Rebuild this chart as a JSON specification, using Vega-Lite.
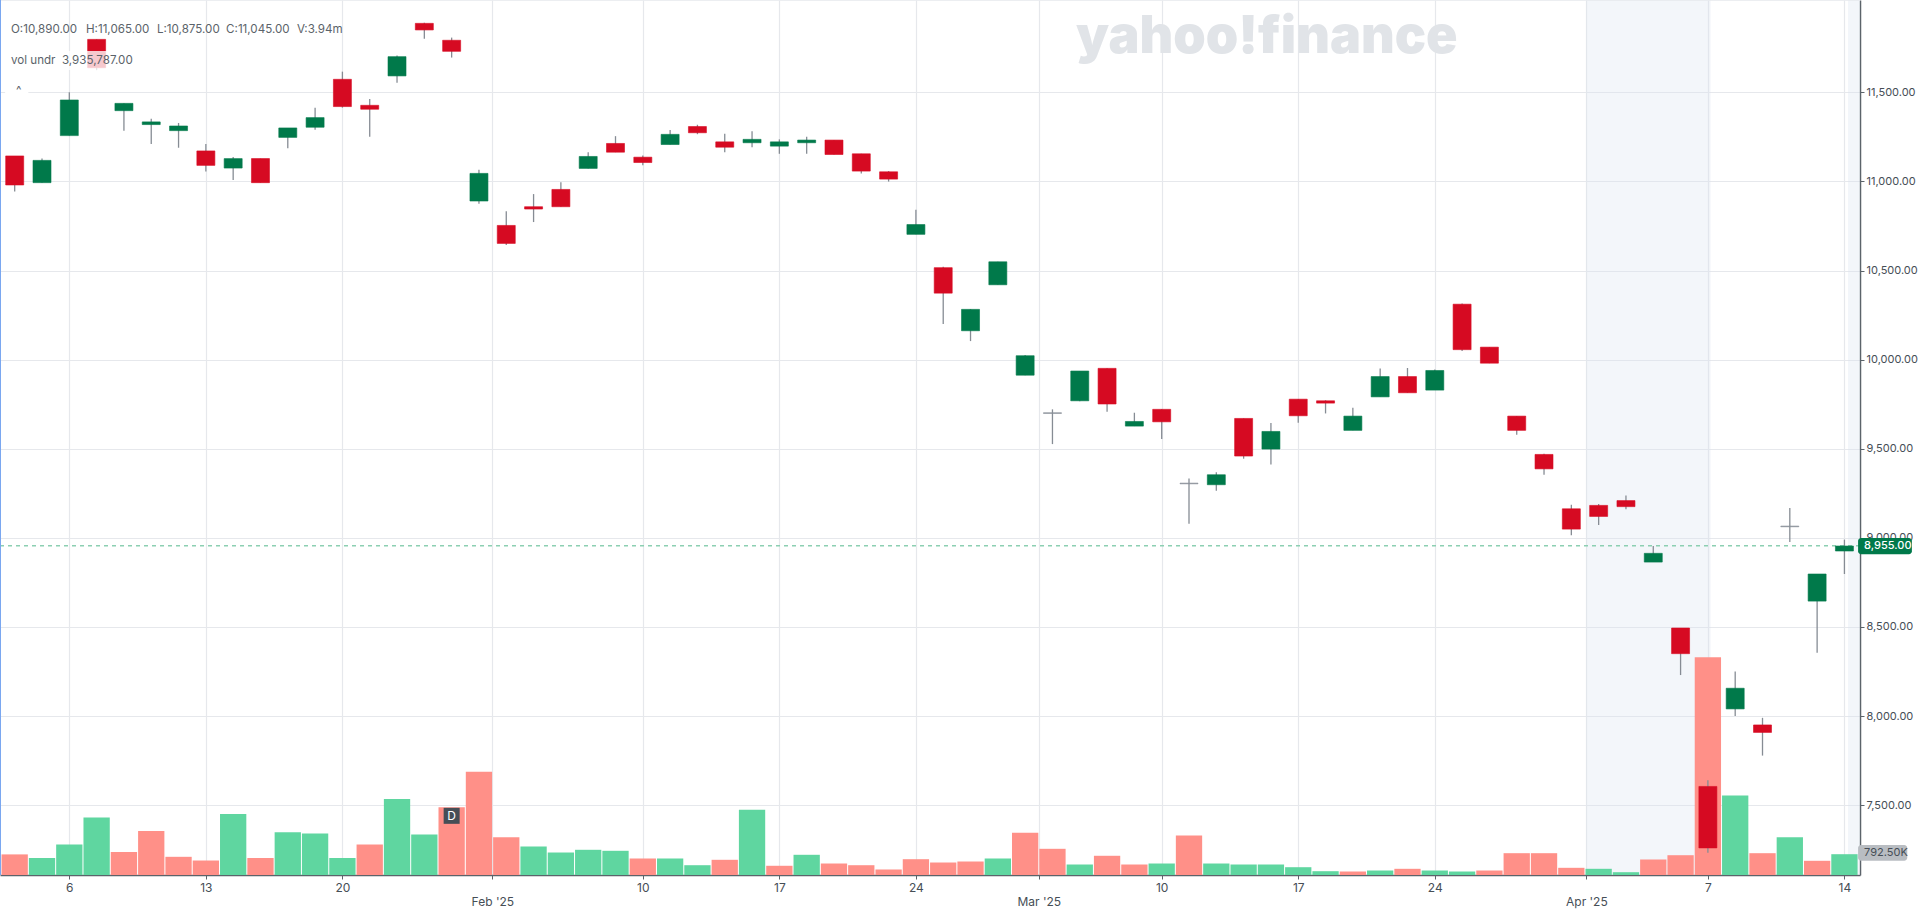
{"$schema":"https://vega.github.io/schema/vega-lite/v6.json","width":1860,"height":875,"autosize":{"type":"none"},"padding":{"left":0,"top":0,"right":60,"bottom":36},"background":"#ffffff","config":{"view":{"stroke":null},"font":"Inter"},
"datasets":{"bars":[
{"i":0,"open":11143,"high":11143,"low":10943,"close":10980,"dir":"down","volume":785000,"volDir":"down"},
{"i":1,"open":10993,"high":11128,"low":10993,"close":11118,"dir":"up","volume":648000,"volDir":"up"},
{"i":2,"open":11257,"high":11500,"low":11257,"close":11457,"dir":"up","volume":1162000,"volDir":"up"},
{"i":3,"open":11797,"high":11797,"low":11625,"close":11638,"dir":"down","volume":2191000,"volDir":"up"},
{"i":4,"open":11397,"high":11438,"low":11285,"close":11438,"dir":"up","volume":880000,"volDir":"down"},
{"i":5,"open":11319,"high":11352,"low":11210,"close":11334,"dir":"up","volume":1676000,"volDir":"down"},
{"i":6,"open":11285,"high":11328,"low":11189,"close":11311,"dir":"up","volume":693000,"volDir":"down"},
{"i":7,"open":11171,"high":11210,"low":11055,"close":11090,"dir":"down","volume":552000,"volDir":"down"},
{"i":8,"open":11075,"high":11137,"low":11008,"close":11128,"dir":"up","volume":2328000,"volDir":"up"},
{"i":9,"open":11128,"high":11128,"low":10993,"close":10993,"dir":"down","volume":648000,"volDir":"down"},
{"i":10,"open":11247,"high":11300,"low":11186,"close":11300,"dir":"up","volume":1627000,"volDir":"up"},
{"i":11,"open":11304,"high":11414,"low":11290,"close":11358,"dir":"up","volume":1581000,"volDir":"up"},
{"i":12,"open":11573,"high":11616,"low":11414,"close":11420,"dir":"down","volume":648000,"volDir":"up"},
{"i":13,"open":11427,"high":11463,"low":11251,"close":11405,"dir":"down","volume":1162000,"volDir":"down"},
{"i":14,"open":11592,"high":11706,"low":11554,"close":11700,"dir":"up","volume":2892000,"volDir":"up"},
{"i":15,"open":11887,"high":11891,"low":11801,"close":11850,"dir":"down","volume":1543000,"volDir":"up"},
{"i":16,"open":11792,"high":11807,"low":11695,"close":11730,"dir":"down","volume":2583000,"volDir":"down"},
{"i":17,"open":10890,"high":11065,"low":10875,"close":11045,"dir":"up","volume":3935787,"volDir":"down"},
{"i":18,"open":10753,"high":10833,"low":10643,"close":10652,"dir":"down","volume":1440000,"volDir":"down"},
{"i":19,"open":10858,"high":10929,"low":10772,"close":10845,"dir":"down","volume":1086000,"volDir":"up"},
{"i":20,"open":10955,"high":10996,"low":10858,"close":10858,"dir":"down","volume":857000,"volDir":"up"},
{"i":21,"open":11073,"high":11164,"low":11073,"close":11140,"dir":"up","volume":960000,"volDir":"up"},
{"i":22,"open":11213,"high":11254,"low":11164,"close":11164,"dir":"down","volume":922000,"volDir":"up"},
{"i":23,"open":11136,"high":11146,"low":11091,"close":11106,"dir":"down","volume":629000,"volDir":"down"},
{"i":24,"open":11207,"high":11288,"low":11207,"close":11264,"dir":"up","volume":629000,"volDir":"up"},
{"i":25,"open":11308,"high":11318,"low":11265,"close":11273,"dir":"down","volume":373000,"volDir":"up"},
{"i":26,"open":11222,"high":11267,"low":11164,"close":11192,"dir":"down","volume":579000,"volDir":"down"},
{"i":27,"open":11217,"high":11282,"low":11192,"close":11236,"dir":"up","volume":2484000,"volDir":"up"},
{"i":28,"open":11198,"high":11236,"low":11155,"close":11222,"dir":"up","volume":351000,"volDir":"down"},
{"i":29,"open":11217,"high":11250,"low":11155,"close":11232,"dir":"up","volume":770000,"volDir":"up"},
{"i":30,"open":11232,"high":11232,"low":11151,"close":11151,"dir":"down","volume":438000,"volDir":"down"},
{"i":31,"open":11155,"high":11155,"low":11045,"close":11058,"dir":"down","volume":373000,"volDir":"down"},
{"i":32,"open":11054,"high":11058,"low":10999,"close":11013,"dir":"down","volume":210000,"volDir":"down"},
{"i":33,"open":10703,"high":10841,"low":10703,"close":10758,"dir":"up","volume":602000,"volDir":"down"},
{"i":34,"open":10516,"high":10521,"low":10200,"close":10373,"dir":"down","volume":476000,"volDir":"down"},
{"i":35,"open":10162,"high":10284,"low":10104,"close":10282,"dir":"up","volume":514000,"volDir":"down"},
{"i":36,"open":10420,"high":10549,"low":10420,"close":10549,"dir":"up","volume":629000,"volDir":"up"},
{"i":37,"open":9913,"high":10026,"low":9913,"close":10022,"dir":"up","volume":1608000,"volDir":"down"},
{"i":38,"open":9702,"high":9721,"low":9526,"close":9698,"dir":"flat","volume":998000,"volDir":"down"},
{"i":39,"open":9769,"high":9936,"low":9766,"close":9936,"dir":"up","volume":400000,"volDir":"up"},
{"i":40,"open":9951,"high":9951,"low":9708,"close":9751,"dir":"down","volume":732000,"volDir":"down"},
{"i":41,"open":9627,"high":9702,"low":9627,"close":9653,"dir":"up","volume":400000,"volDir":"down"},
{"i":42,"open":9721,"high":9721,"low":9554,"close":9651,"dir":"down","volume":438000,"volDir":"up"},
{"i":43,"open":9307,"high":9333,"low":9079,"close":9303,"dir":"flat","volume":1505000,"volDir":"down"},
{"i":44,"open":9298,"high":9368,"low":9264,"close":9354,"dir":"up","volume":438000,"volDir":"up"},
{"i":45,"open":9670,"high":9670,"low":9444,"close":9459,"dir":"down","volume":400000,"volDir":"up"},
{"i":46,"open":9498,"high":9644,"low":9412,"close":9597,"dir":"up","volume":400000,"volDir":"up"},
{"i":47,"open":9778,"high":9779,"low":9646,"close":9685,"dir":"down","volume":297000,"volDir":"up"},
{"i":48,"open":9769,"high":9772,"low":9698,"close":9756,"dir":"down","volume":145000,"volDir":"up"},
{"i":49,"open":9603,"high":9730,"low":9603,"close":9683,"dir":"up","volume":133000,"volDir":"down"},
{"i":50,"open":9791,"high":9950,"low":9791,"close":9905,"dir":"up","volume":171000,"volDir":"up"},
{"i":51,"open":9905,"high":9953,"low":9814,"close":9814,"dir":"down","volume":236000,"volDir":"down"},
{"i":52,"open":9829,"high":9945,"low":9829,"close":9939,"dir":"up","volume":171000,"volDir":"up"},
{"i":53,"open":10311,"high":10315,"low":10048,"close":10056,"dir":"down","volume":133000,"volDir":"up"},
{"i":54,"open":10070,"high":10070,"low":9980,"close":9980,"dir":"down","volume":171000,"volDir":"down"},
{"i":55,"open":9683,"high":9683,"low":9578,"close":9603,"dir":"down","volume":831000,"volDir":"down"},
{"i":56,"open":9468,"high":9472,"low":9354,"close":9387,"dir":"down","volume":831000,"volDir":"down"},
{"i":57,"open":9163,"high":9185,"low":9015,"close":9049,"dir":"down","volume":274000,"volDir":"down"},
{"i":58,"open":9182,"high":9190,"low":9072,"close":9120,"dir":"down","volume":236000,"volDir":"up"},
{"i":59,"open":9209,"high":9237,"low":9160,"close":9175,"dir":"down","volume":107000,"volDir":"up"},
{"i":60,"open":8864,"high":8954,"low":8864,"close":8913,"dir":"up","volume":591000,"volDir":"down"},
{"i":61,"open":8494,"high":8494,"low":8230,"close":8350,"dir":"down","volume":754000,"volDir":"down"},
{"i":62,"open":7605,"high":7640,"low":7233,"close":7260,"dir":"down","volume":8300000,"volDir":"down"},
{"i":63,"open":8040,"high":8250,"low":8000,"close":8156,"dir":"up","volume":3029000,"volDir":"up"},
{"i":64,"open":7950,"high":7990,"low":7778,"close":7908,"dir":"down","volume":831000,"volDir":"down"},
{"i":65,"open":9066,"high":9167,"low":8976,"close":9062,"dir":"flat","volume":1440000,"volDir":"up"},
{"i":66,"open":8645,"high":8797,"low":8355,"close":8797,"dir":"up","volume":541000,"volDir":"down"},
{"i":67,"open":8926,"high":8990,"low":8797,"close":8954,"dir":"up","volume":792500,"volDir":"up"}
]},
"resolve":{"scale":{"y":"independent","color":"independent"},"axis":{"x":"independent","y":"independent"}},
"layer":[
{"data":{"values":[{"from":57.55,"to":62.1},{"from":67.13,"to":67.57}]},"mark":{"type":"rect","fill":"#dbe5f0","opacity":0.33},
"encoding":{"x":{"field":"from","type":"quantitative","title":null,"scale":{"domain":[-0.538,67.57],"nice":false,"zero":false,"padding":0},
"axis":{"values":[2,7,12,17.49,23,28,33,37.5,42,47,52,57.55,62,67],"grid":true,"gridColor":"#e6e8ec","gridWidth":1.2,"domainColor":"#5b636a","domainWidth":1.5,"tickColor":"#5b636a","tickSize":4,"labelFontSize":12,"labelFont":"Inter","labelColor":"#464e56","labelPadding":3,"labelLineHeight":14,"labelBaseline":"top","labelFlush":false,"labelOverlap":false,
"labelExpr":"datum.value==2?'6':datum.value==7?'13':datum.value==12?'20':datum.value==17.49?['','Feb \\'25']:datum.value==23?'10':datum.value==28?'17':datum.value==33?'24':datum.value==37.5?['','Mar \\'25']:datum.value==42?'10':datum.value==47?'17':datum.value==52?'24':datum.value==57.55?['','Apr \\'25']:datum.value==62?'7':'14'"}},"x2":{"field":"to"}}},
{"data":{"name":"bars"},"mark":{"type":"bar","orient":"vertical","size":26.3},
"encoding":{"x":{"field":"i","type":"quantitative","axis":null,"scale":{"domain":[-0.538,67.57],"nice":false,"zero":false,"padding":0}},
"y":{"field":"volume","type":"quantitative","stack":null,"axis":null,"scale":{"domain":[0,33337500],"nice":false}},
"color":{"field":"volDir","type":"nominal","legend":null,"scale":{"domain":["up","down"],"range":["#5fd6a0","#ff9088"]}}}},
{"resolve":{"axis":{"x":"independent","y":"independent"}},"layer":[
{"data":{"values":[{"price":8955}]},"mark":{"type":"rule","color":"#8ccfb2","strokeDash":[4,4],"strokeWidth":1.5},
"encoding":{"y":{"field":"price","type":"quantitative","title":null,"scale":{"domain":[7108,12018],"nice":false,"zero":false},
"axis":{"orient":"right","values":[7500,8000,8500,9000,9500,10000,10500,11000,11500],"format":",.2f","grid":true,"gridColor":"#e6e8ec","gridWidth":1.2,"domainColor":"#5b636a","domainWidth":1.5,"tickColor":"#5b636a","tickSize":4,"labelFontSize":11,"labelFont":"Inter","labelColor":"#464e56","labelPadding":2}}}},
{"data":{"values":[{"price":12018}]},"mark":{"type":"rule","color":"#e6e8ec","strokeWidth":1.5},"encoding":{"y":{"field":"price","type":"quantitative","axis":null}}},
{"data":{"values":[{"i":-0.538}]},"mark":{"type":"rule","color":"#7aa7f0","strokeWidth":2},"encoding":{"x":{"field":"i","type":"quantitative","axis":null}}},
{"data":{"name":"bars"},"mark":{"type":"rule","color":"#868c94","strokeWidth":1.3},
"encoding":{"x":{"field":"i","type":"quantitative","axis":null},"y":{"field":"low","type":"quantitative","axis":null},"y2":{"field":"high"}}},
{"data":{"name":"bars"},"mark":{"type":"bar","orient":"vertical","size":18,"strokeWidth":0.6},
"encoding":{"x":{"field":"i","type":"quantitative","axis":null,"scale":{"padding":0}},"y":{"field":"open","type":"quantitative","axis":null},"y2":{"field":"close"},
"color":{"field":"dir","type":"nominal","legend":null,"scale":{"domain":["up","down","flat"],"range":["#00794a","#d60a22","#8a9199"]}},
"stroke":{"field":"dir","type":"nominal","legend":null,"scale":{"domain":["up","down","flat"],"range":["#00794a","#d60a22","#8a9199"]}}}},
{"data":{"values":[{"from":-0.135,"to":4.3,"p1":11732,"p2":11625,"o":0.78},{"from":-0.35,"to":0.5,"p1":11545,"p2":11478,"o":1}]},"mark":{"type":"rect","fill":"#ffffff"},
"encoding":{"x":{"field":"from","type":"quantitative","axis":null},"x2":{"field":"to"},"y":{"field":"p1","type":"quantitative","axis":null},"y2":{"field":"p2"},"opacity":{"field":"o","type":"quantitative","legend":null,"scale":null}}},
{"data":{"values":[{"label":"yahoo!finance","i":45.85,"price":11720}]},"mark":{"type":"text","font":"Inter","fontWeight":900,"fontSize":52,"color":"#e1e4e8","align":"center","baseline":"alphabetic"},
"encoding":{"x":{"field":"i","type":"quantitative","axis":null},"y":{"field":"price","type":"quantitative","axis":null},"text":{"field":"label"}}},
{"data":{"values":[{"label":"O:10,890.00","i":-0.135,"price":11850},{"label":"H:11,065.00","i":2.61,"price":11850},{"label":"L:10,875.00","i":5.21,"price":11850},{"label":"C:11,045.00","i":7.74,"price":11850},{"label":"V:3.94m","i":10.34,"price":11850},{"label":"vol undr","i":-0.135,"price":11676},{"label":"3,935,787.00","i":1.73,"price":11676},{"label":"^","i":0.05,"price":11505}]},"mark":{"type":"text","font":"Inter","fontSize":11.6,"color":"#5b636a","align":"left","baseline":"middle"},
"encoding":{"x":{"field":"i","type":"quantitative","axis":null},"y":{"field":"price","type":"quantitative","axis":null},"text":{"field":"label"}}},
{"data":{"values":[{"from":67.5,"to":69.47,"p1":8999,"p2":8908,"kind":"last"},{"from":67.5,"to":69.3,"p1":7277,"p2":7188,"kind":"vol"},{"from":70.2,"to":70.4,"p1":10183,"p2":10032,"kind":"tab"}]},"mark":{"type":"rect","cornerRadius":3},
"encoding":{"x":{"field":"from","type":"quantitative","axis":null},"x2":{"field":"to"},"y":{"field":"p1","type":"quantitative","axis":null},"y2":{"field":"p2"},"fill":{"field":"kind","type":"nominal","legend":null,"scale":{"domain":["last","vol","tab"],"range":["#00794a","#b9bdc2","#1a73e8"]}}}},
{"data":{"values":[{"label":"8,955.00","i":67.72,"price":8953}]},"mark":{"type":"text","font":"Inter","fontSize":11,"fontWeight":500,"color":"#ffffff","align":"left","baseline":"middle"},
"encoding":{"x":{"field":"i","type":"quantitative","axis":null},"y":{"field":"price","type":"quantitative","axis":null},"text":{"field":"label"}}},
{"data":{"values":[{"label":"792.50K","i":67.72,"price":7232}]},"mark":{"type":"text","font":"Inter","fontSize":11,"color":"#464e56","align":"left","baseline":"middle"},
"encoding":{"x":{"field":"i","type":"quantitative","axis":null},"y":{"field":"price","type":"quantitative","axis":null},"text":{"field":"label"}}},
{"data":{"values":[{"i":16,"price":7440}]},"mark":{"type":"point","shape":"square","filled":true,"size":256,"color":"#464e56","opacity":1},
"encoding":{"x":{"field":"i","type":"quantitative","axis":null},"y":{"field":"price","type":"quantitative","axis":null}}},
{"data":{"values":[{"label":"D","i":16,"price":7440}]},"mark":{"type":"text","font":"Inter","fontSize":12,"color":"#ffffff","align":"center","baseline":"middle"},
"encoding":{"x":{"field":"i","type":"quantitative","axis":null},"y":{"field":"price","type":"quantitative","axis":null},"text":{"field":"label"}}}
]}
]}
